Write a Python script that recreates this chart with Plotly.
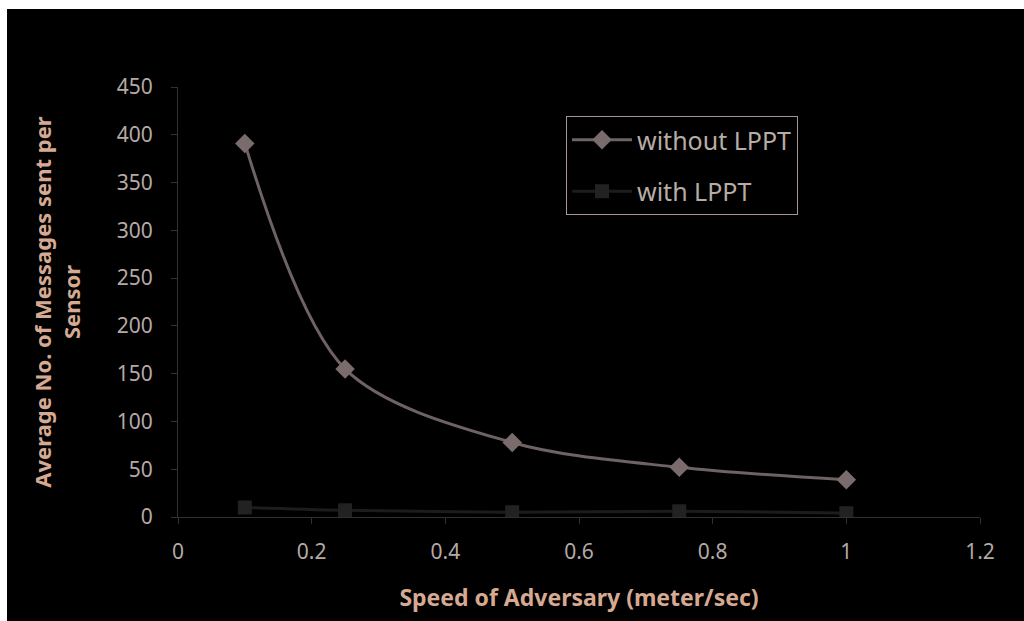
import plotly.graph_objects as go

speed = [0.1, 0.25, 0.5, 0.75, 1.0]
without_lppt = [391, 155, 78, 52, 39]
with_lppt = [10, 7, 5, 6, 4]

x_ticks = [0, 0.2, 0.4, 0.6, 0.8, 1, 1.2]
x_tick_text = ["0", "0.2", "0.4", "0.6", "0.8", "1", "1.2"]
y_ticks = [0, 50, 100, 150, 200, 250, 300, 350, 400, 450]

FONT = "Noto Sans"
TICK_COLOR = "#b5a9a6"
TITLE_COLOR = "#d6aa92"
AXIS_COLOR = "#333030"

fig = go.Figure()
fig.add_trace(go.Scatter(
    x=speed, y=without_lppt, name="without LPPT", mode="lines+markers",
    line=dict(color="#6e6262", width=3, shape="spline", smoothing=0.9),
    marker=dict(symbol="diamond", size=15, color="#7a6c6c"),
    legendgroup="a",
))
fig.add_trace(go.Scatter(
    x=speed, y=with_lppt, name="with LPPT", mode="lines+markers",
    line=dict(color="#1c1c1c", width=3, shape="spline"),
    marker=dict(symbol="square", size=14, color="#222222"),
    legendgroup="b",
))

L, R, T, B = 178, 44, 87, 104
W, H = 1024, 621
pw, ph = W - L - R, H - T - B

fig.update_layout(
    width=W, height=H,
    margin=dict(l=L, r=R, t=T, b=B),
    paper_bgcolor="black", plot_bgcolor="black",
    font=dict(family=FONT, color=TICK_COLOR, size=21),
    showlegend=True,
    legend=dict(
        x=(566 - L) / pw, y=(H - B - 116) / ph, xanchor="left", yanchor="top",
        bgcolor="rgba(0,0,0,0)", bordercolor="#a89494", borderwidth=1,
        font=dict(family=FONT, size=25, color="#b8aca6"),
        itemwidth=60, tracegroupgap=16,
    ),
    xaxis=dict(
        range=[0, 1.2], tickvals=x_ticks, ticktext=x_tick_text,
        showgrid=False, zeroline=False, showline=True, linecolor=AXIS_COLOR, linewidth=1,
        ticks="outside", ticklen=6, tickcolor=AXIS_COLOR, tickfont=dict(size=21, color=TICK_COLOR),
        ticklabelstandoff=10,
        title=dict(text="<b>Speed of Adversary (meter/sec)</b>", font=dict(size=23, color=TITLE_COLOR), standoff=25),
    ),
    yaxis=dict(
        range=[0, 450], tickvals=y_ticks,
        showgrid=False, zeroline=False, showline=True, linecolor=AXIS_COLOR, linewidth=1,
        ticks="outside", ticklen=6, tickcolor=AXIS_COLOR, tickfont=dict(size=21, color=TICK_COLOR),
        ticklabelstandoff=14,
        title=dict(text="<b>Average No. of Messages sent per<br>Sensor</b>", font=dict(size=22, color=TITLE_COLOR), standoff=30),
    ),
    shapes=[
        dict(type="rect", xref="paper", yref="paper", x0=-L / pw, x1=(7 - L) / pw,
             y0=-B / ph, y1=1 + T / ph, fillcolor="white", line=dict(width=0), layer="above"),
        dict(type="rect", xref="paper", yref="paper", x0=-L / pw, x1=1 + R / pw,
             y0=1 + (T - 9) / ph, y1=1 + T / ph, fillcolor="white", line=dict(width=0), layer="above"),
    ],
)

fig.write_html("out.html")
